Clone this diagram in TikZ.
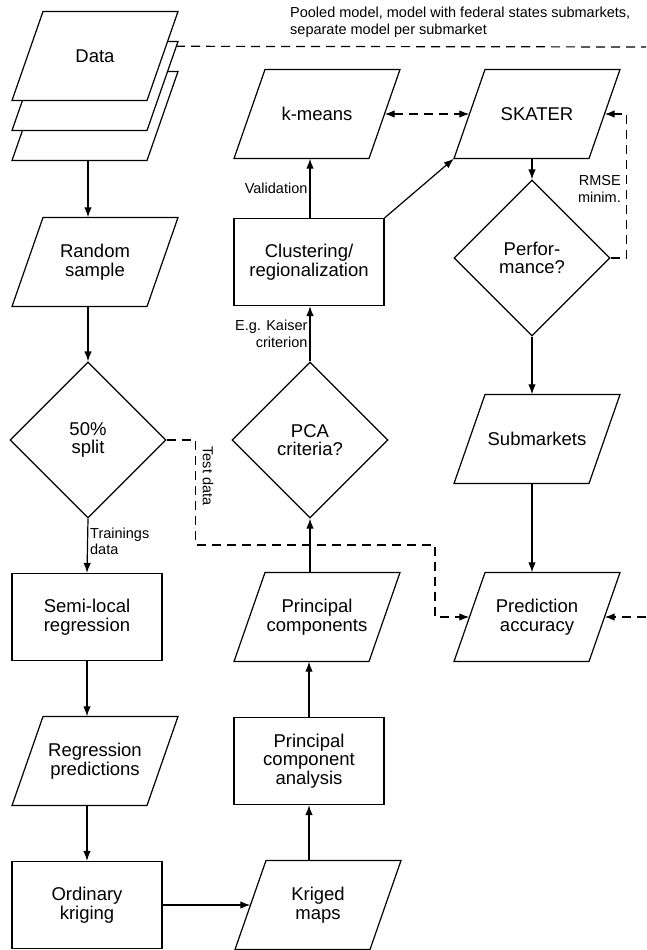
\documentclass[tikz,border=0pt]{standalone}
\usepackage{fontspec}
\setmainfont{Liberation Sans}
\usepackage{tikz}
\usetikzlibrary{shapes.geometric}
\usetikzlibrary{arrows.meta}
\newcommand{\boxfont}{\fontsize{18.5}{18.5}\selectfont}
\newcommand{\lblfont}{\fontsize{14.5}{16.5}\selectfont}
\newcommand{\paranode}[3]{ \filldraw[outline, fill=white, shift={#2}] (-83,44.5) -- (52,44.5) -- (83,-44.5) -- (-52,-44.5) -- cycle;
  \node[paratext] (#1) at #2 {#3};}
\tikzset{
  outline/.style={line width=1.2pt, line join=miter},
  proc/.style={draw, outline, rectangle, minimum width=150pt, minimum height=87pt, align=center, font=\boxfont},
  paratext/.style={rectangle, minimum width=135pt, minimum height=89pt, align=center, font=\boxfont},
  dec/.style={draw, outline, diamond, aspect=1, minimum width=156pt, minimum height=156pt, inner sep=0pt, align=center, font=\boxfont},
  lbl/.style={font=\lblfont, inner sep=2pt},
  arr/.style={line width=1.2pt, -{Latex[length=10pt,width=7.5pt]}},
  dashline/.style={line width=1.2pt, dash pattern=on 9pt off 6pt},
}

\begin{document}
\begin{tikzpicture}[x=1pt, y=-1pt]
        \useasboundingbox (0,0) rectangle (646,950);

        % left column
        \paranode{data3}{(95,116)}{}
        \paranode{data2}{(95,86)}{}
        \paranode{data1}{(95,56)}{Data}
        \paranode{sample}{(95,262)}{Random\\sample}
        \node[dec] (split) at (88,440) {50\%\\split};
        \node[proc] (semi) at (87,617) {Semi-local\\regression};
        \paranode{regpred}{(95,761)}{Regression\\predictions}
        \node[proc] (krig) at (87,905) {Ordinary\\kriging};

        % middle column
        \paranode{kmeans}{(317,114)}{k-means}
        \node[proc] (clust) at (309,262) {Clustering/\\regionalization};
        \node[dec] (pcacrit) at (310,440) {PCA\\criteria?};
        \paranode{pcomp}{(317,617)}{Principal\\components}
        \node[proc] (pca) at (309,761) {Principal\\component\\analysis};
        \paranode{kmaps}{(318,905)}{Kriged\\maps}

        % right column
        \paranode{skater}{(537,114)}{SKATER}
        \node[dec] (perf) at (532,258) {Perfor-\\mance?};
        \paranode{submk}{(537,439)}{Submarkets}
        \paranode{acc}{(537,617)}{Prediction\\accuracy}

        % free ends
        \coordinate (edgetop) at (646,47);
        \coordinate (edgebot) at (646,617);
        \coordinate (tbend) at (435,545);

        % labels
        \node[lbl, anchor=north west, align=left] (pooled) at (288,5) {Pooled model, model with federal states submarkets,\\separate model per submarket};
        \node[lbl, rotate=-90] (testlbl) at (208,476) {Test data};
        \node[lbl, anchor=east, align=right] (rmse) at (623,189) {RMSE\\minim.};

        % solid arrows
        \draw[arr] (data3.south -| split) -- (sample.north -| split);
        \draw[arr] (sample.south -| split) -- (split.north);
        \draw[arr] (split.south) -- node[lbl, right, align=left, pos=0.42] {Trainings\\data} (semi.north);
        \draw[arr] (semi.south) -- (regpred.north -| semi);
        \draw[arr] (regpred.south -| krig) -- (krig.north);
        \draw[arr] (krig.east) -- (kmaps.west);
        \draw[arr] (kmaps.north -| pca) -- (pca.south);
        \draw[arr] (pca.north) -- (pcomp.south -| pca);
        \draw[arr] (pcomp.north -| pcacrit) -- (pcacrit.south);
        \draw[arr] (pcacrit.north) -- node[lbl, left, align=right] {E.g. Kaiser\\criterion} (clust.south -| pcacrit);
        \draw[arr] (clust.north -| pcacrit) -- node[lbl, left] {Validation} (kmeans.south -| pcacrit);
        \draw[arr] (clust.north east) -- ([xshift=-15.5pt]skater.south west);
        \draw[arr] (skater.south -| perf) -- (perf.north);
        \draw[arr] (perf.south) -- (submk.north -| perf);
        \draw[arr] (submk.south -| perf) -- (acc.north -| perf);

        % dashed connectors
        \draw[dashline] ([xshift=13.5pt, yshift=-5pt]data2.north east) -- (edgetop);
        \draw[dashline, {Latex[length=10pt,width=7.5pt]}-{Latex[length=10pt,width=7.5pt]}] (kmeans.east) -- (skater.west);
        \draw[dashline, -{Latex[length=10pt,width=7.5pt]}] (perf.east) -- ++(16,0) |- (skater.east);
        \draw[dashline, -{Latex[length=10pt,width=7.5pt]}] (split.east) -- ++(29,0) |- (tbend) |- (acc.west);
        \draw[dashline, -{Latex[length=10pt,width=7.5pt]}] (edgebot) -- (acc.east);
\end{tikzpicture}
\end{document}
